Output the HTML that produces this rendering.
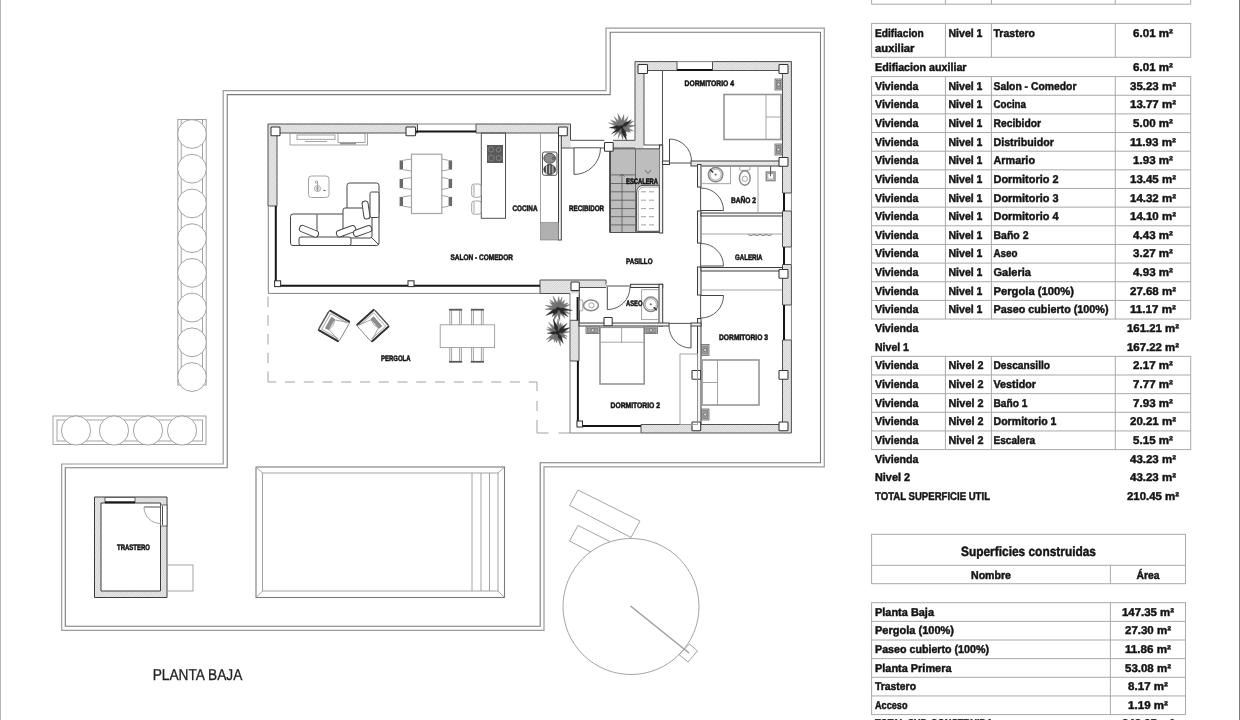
<!DOCTYPE html>
<html lang="es"><head><meta charset="utf-8"><title>Planta Baja</title>
<style>
html,body{margin:0;padding:0;background:#fff;}
body{width:1240px;height:720px;overflow:hidden;font-family:"Liberation Sans",sans-serif;}
svg{display:block;font-family:"Liberation Sans",sans-serif;text-rendering:geometricPrecision;will-change:transform;}
.t{font-weight:bold;fill:#141414;stroke:#141414;stroke-width:.45px;}
.lb{font-weight:bold;fill:#111;stroke:#111;stroke-width:.5px;}
.tb{stroke:#a9a9a9;stroke-width:1;fill:none;}
.l{stroke:#7a7a7a;stroke-width:1.1;fill:none;}
.lo{stroke:#9a9a9a;stroke-width:1.2;fill:none;}
.lt{stroke:#9a9a9a;stroke-width:.9;fill:none;}
.ltw{stroke:#9a9a9a;stroke-width:.9;fill:#fff;}
.dk{stroke:#505050;stroke-width:1;fill:none;}
.w{stroke:#3c3c3c;stroke-width:1;fill:#e6e6e6;}
.w2{stroke:#3c3c3c;stroke-width:1;fill:#f4f4f4;}
.wn{stroke:none;fill:url(#hatch);}
.col{stroke:#333;stroke-width:1.05;fill:#fff;}
.bk{stroke:#151515;stroke-width:2;fill:none;}
.wo{stroke:#828282;stroke-width:1;fill:none;}
.wh{stroke:#555;stroke-width:.9;fill:#fff;}
.st{fill:#bdbdbd;stroke:none;}
.sl{stroke:#555;stroke-width:.8;fill:none;}
.dr{stroke:#444;stroke-width:1;fill:none;}
.fs{stroke:#444;stroke-width:1;fill:#fff;}
.fl{stroke:#444;stroke-width:1;fill:none;}
.bd{stroke:#959595;stroke-width:1.6;fill:#fff;}
.ns{stroke:#666;stroke-width:.8;fill:#cfcfcf;}
.nsi{stroke:#777;stroke-width:.7;fill:#9c9c9c;}
.nsc{stroke:#555;stroke-width:.6;fill:#d8d8d8;}
.tl{stroke:#8a8a8a;stroke-width:1.5;fill:#fff;}
.da{stroke:#4a4a4a;stroke-width:.9;fill:none;}
.wh2{stroke:#444;stroke-width:1;fill:#fff;}
.tbl{stroke:#a4a4a4;stroke-width:1.2;fill:#fff;}
.ds2{stroke:#a2a2a2;stroke-width:1;fill:none;}
.ds{stroke:#a5a5a5;stroke-width:1;fill:none;stroke-dasharray:10 8.8;}
</style></head>
<body>
<svg width="1240" height="720" viewBox="0 0 1240 720">
<defs><pattern id="hatch" width="2.4" height="2.4" patternUnits="userSpaceOnUse"><rect width="2.4" height="2.4" fill="#e9e9e9"/><path d="M-0.6,0.6 L0.6,-0.6 M0,2.4 L2.4,0 M1.8,3 L3,1.8" stroke="#c6c6c6" stroke-width=".7"/></pattern></defs>
<g id="tables">
<line x1="0.5" y1="0" x2="0.5" y2="720" stroke="#b5b5b5" stroke-width="1"/>
<line x1="1239.5" y1="0" x2="1239.5" y2="720" stroke="#7d7d7d" stroke-width="1"/>
<line class="tb" x1="871.6" y1="0" x2="871.6" y2="4.2"/>
<line class="tb" x1="945.4" y1="0" x2="945.4" y2="4.2"/>
<line class="tb" x1="991.4" y1="0" x2="991.4" y2="4.2"/>
<line class="tb" x1="1115.3" y1="0" x2="1115.3" y2="4.2"/>
<line class="tb" x1="1190.7" y1="0" x2="1190.7" y2="4.2"/>
<line class="tb" x1="871.6" y1="4.2" x2="1190.7" y2="4.2"/>
<rect class="tb" x="871.6" y="23.4" width="319.1" height="33.9"/>
<line class="tb" x1="945.4" y1="23.4" x2="945.4" y2="57.3"/>
<line class="tb" x1="991.4" y1="23.4" x2="991.4" y2="57.3"/>
<line class="tb" x1="1115.3" y1="23.4" x2="1115.3" y2="57.3"/>
<text class="t" x="875.0" y="36.8" font-size="11.3" textLength="48.7" lengthAdjust="spacingAndGlyphs">Edifiacion</text>
<text class="t" x="875.0" y="52.4" font-size="11.3" textLength="39.5" lengthAdjust="spacingAndGlyphs">auxiliar</text>
<text class="t" x="948.5" y="36.8" font-size="11.3" textLength="34.0" lengthAdjust="spacingAndGlyphs">Nivel 1</text>
<text class="t" x="993.5" y="36.8" font-size="11.3" textLength="41.5" lengthAdjust="spacingAndGlyphs">Trastero</text>
<text class="t" x="1153.0" y="36.8" font-size="11.3" textLength="39.9" lengthAdjust="spacingAndGlyphs" text-anchor="middle">6.01 m²</text>
<text class="t" x="875.0" y="71.0" font-size="11.3" textLength="91.5" lengthAdjust="spacingAndGlyphs">Edifiacion auxiliar</text>
<text class="t" x="1153.0" y="71.0" font-size="11.3" textLength="39.9" lengthAdjust="spacingAndGlyphs" text-anchor="middle">6.01 m²</text>
<rect class="tb" x="871.6" y="76.6" width="319.1" height="242.45"/>
<line class="tb" x1="945.4" y1="76.6" x2="945.4" y2="319.05"/>
<line class="tb" x1="991.4" y1="76.6" x2="991.4" y2="319.05"/>
<line class="tb" x1="1115.3" y1="76.6" x2="1115.3" y2="319.05"/>
<text class="t" x="875.0" y="89.6" font-size="11.3" textLength="43.5" lengthAdjust="spacingAndGlyphs">Vivienda</text>
<text class="t" x="948.5" y="89.6" font-size="11.3" textLength="34.0" lengthAdjust="spacingAndGlyphs">Nivel 1</text>
<text class="t" x="993.5" y="89.6" font-size="11.3" textLength="83.0" lengthAdjust="spacingAndGlyphs">Salon - Comedor</text>
<text class="t" x="1153.0" y="89.6" font-size="11.3" textLength="46.0" lengthAdjust="spacingAndGlyphs" text-anchor="middle">35.23 m²</text>
<line class="tb" x1="871.6" y1="95.25" x2="1190.7" y2="95.25"/>
<text class="t" x="875.0" y="108.2" font-size="11.3" textLength="43.5" lengthAdjust="spacingAndGlyphs">Vivienda</text>
<text class="t" x="948.5" y="108.2" font-size="11.3" textLength="34.0" lengthAdjust="spacingAndGlyphs">Nivel 1</text>
<text class="t" x="993.5" y="108.2" font-size="11.3" textLength="32.5" lengthAdjust="spacingAndGlyphs">Cocina</text>
<text class="t" x="1153.0" y="108.2" font-size="11.3" textLength="46.0" lengthAdjust="spacingAndGlyphs" text-anchor="middle">13.77 m²</text>
<line class="tb" x1="871.6" y1="113.9" x2="1190.7" y2="113.9"/>
<text class="t" x="875.0" y="126.9" font-size="11.3" textLength="43.5" lengthAdjust="spacingAndGlyphs">Vivienda</text>
<text class="t" x="948.5" y="126.9" font-size="11.3" textLength="34.0" lengthAdjust="spacingAndGlyphs">Nivel 1</text>
<text class="t" x="993.5" y="126.9" font-size="11.3" textLength="47.5" lengthAdjust="spacingAndGlyphs">Recibidor</text>
<text class="t" x="1153.0" y="126.9" font-size="11.3" textLength="39.9" lengthAdjust="spacingAndGlyphs" text-anchor="middle">5.00 m²</text>
<line class="tb" x1="871.6" y1="132.55" x2="1190.7" y2="132.55"/>
<text class="t" x="875.0" y="145.5" font-size="11.3" textLength="43.5" lengthAdjust="spacingAndGlyphs">Vivienda</text>
<text class="t" x="948.5" y="145.5" font-size="11.3" textLength="34.0" lengthAdjust="spacingAndGlyphs">Nivel 1</text>
<text class="t" x="993.5" y="145.5" font-size="11.3" textLength="60.5" lengthAdjust="spacingAndGlyphs">Distribuidor</text>
<text class="t" x="1153.0" y="145.5" font-size="11.3" textLength="46.0" lengthAdjust="spacingAndGlyphs" text-anchor="middle">11.93 m²</text>
<line class="tb" x1="871.6" y1="151.2" x2="1190.7" y2="151.2"/>
<text class="t" x="875.0" y="164.2" font-size="11.3" textLength="43.5" lengthAdjust="spacingAndGlyphs">Vivienda</text>
<text class="t" x="948.5" y="164.2" font-size="11.3" textLength="34.0" lengthAdjust="spacingAndGlyphs">Nivel 1</text>
<text class="t" x="993.5" y="164.2" font-size="11.3" textLength="41.5" lengthAdjust="spacingAndGlyphs">Armario</text>
<text class="t" x="1153.0" y="164.2" font-size="11.3" textLength="39.9" lengthAdjust="spacingAndGlyphs" text-anchor="middle">1.93 m²</text>
<line class="tb" x1="871.6" y1="169.85" x2="1190.7" y2="169.85"/>
<text class="t" x="875.0" y="182.8" font-size="11.3" textLength="43.5" lengthAdjust="spacingAndGlyphs">Vivienda</text>
<text class="t" x="948.5" y="182.8" font-size="11.3" textLength="34.0" lengthAdjust="spacingAndGlyphs">Nivel 1</text>
<text class="t" x="993.5" y="182.8" font-size="11.3" textLength="65.0" lengthAdjust="spacingAndGlyphs">Dormitorio 2</text>
<text class="t" x="1153.0" y="182.8" font-size="11.3" textLength="46.0" lengthAdjust="spacingAndGlyphs" text-anchor="middle">13.45 m²</text>
<line class="tb" x1="871.6" y1="188.5" x2="1190.7" y2="188.5"/>
<text class="t" x="875.0" y="201.5" font-size="11.3" textLength="43.5" lengthAdjust="spacingAndGlyphs">Vivienda</text>
<text class="t" x="948.5" y="201.5" font-size="11.3" textLength="34.0" lengthAdjust="spacingAndGlyphs">Nivel 1</text>
<text class="t" x="993.5" y="201.5" font-size="11.3" textLength="65.0" lengthAdjust="spacingAndGlyphs">Dormitorio 3</text>
<text class="t" x="1153.0" y="201.5" font-size="11.3" textLength="46.0" lengthAdjust="spacingAndGlyphs" text-anchor="middle">14.32 m²</text>
<line class="tb" x1="871.6" y1="207.15" x2="1190.7" y2="207.15"/>
<text class="t" x="875.0" y="220.1" font-size="11.3" textLength="43.5" lengthAdjust="spacingAndGlyphs">Vivienda</text>
<text class="t" x="948.5" y="220.1" font-size="11.3" textLength="34.0" lengthAdjust="spacingAndGlyphs">Nivel 1</text>
<text class="t" x="993.5" y="220.1" font-size="11.3" textLength="65.0" lengthAdjust="spacingAndGlyphs">Dormitorio 4</text>
<text class="t" x="1153.0" y="220.1" font-size="11.3" textLength="46.0" lengthAdjust="spacingAndGlyphs" text-anchor="middle">14.10 m²</text>
<line class="tb" x1="871.6" y1="225.8" x2="1190.7" y2="225.8"/>
<text class="t" x="875.0" y="238.8" font-size="11.3" textLength="43.5" lengthAdjust="spacingAndGlyphs">Vivienda</text>
<text class="t" x="948.5" y="238.8" font-size="11.3" textLength="34.0" lengthAdjust="spacingAndGlyphs">Nivel 1</text>
<text class="t" x="993.5" y="238.8" font-size="11.3" textLength="35.0" lengthAdjust="spacingAndGlyphs">Baño 2</text>
<text class="t" x="1153.0" y="238.8" font-size="11.3" textLength="39.9" lengthAdjust="spacingAndGlyphs" text-anchor="middle">4.43 m²</text>
<line class="tb" x1="871.6" y1="244.45" x2="1190.7" y2="244.45"/>
<text class="t" x="875.0" y="257.4" font-size="11.3" textLength="43.5" lengthAdjust="spacingAndGlyphs">Vivienda</text>
<text class="t" x="948.5" y="257.4" font-size="11.3" textLength="34.0" lengthAdjust="spacingAndGlyphs">Nivel 1</text>
<text class="t" x="993.5" y="257.4" font-size="11.3" textLength="24.0" lengthAdjust="spacingAndGlyphs">Aseo</text>
<text class="t" x="1153.0" y="257.4" font-size="11.3" textLength="39.9" lengthAdjust="spacingAndGlyphs" text-anchor="middle">3.27 m²</text>
<line class="tb" x1="871.6" y1="263.1" x2="1190.7" y2="263.1"/>
<text class="t" x="875.0" y="276.1" font-size="11.3" textLength="43.5" lengthAdjust="spacingAndGlyphs">Vivienda</text>
<text class="t" x="948.5" y="276.1" font-size="11.3" textLength="34.0" lengthAdjust="spacingAndGlyphs">Nivel 1</text>
<text class="t" x="993.5" y="276.1" font-size="11.3" textLength="37.5" lengthAdjust="spacingAndGlyphs">Galeria</text>
<text class="t" x="1153.0" y="276.1" font-size="11.3" textLength="39.9" lengthAdjust="spacingAndGlyphs" text-anchor="middle">4.93 m²</text>
<line class="tb" x1="871.6" y1="281.75" x2="1190.7" y2="281.75"/>
<text class="t" x="875.0" y="294.8" font-size="11.3" textLength="43.5" lengthAdjust="spacingAndGlyphs">Vivienda</text>
<text class="t" x="948.5" y="294.8" font-size="11.3" textLength="34.0" lengthAdjust="spacingAndGlyphs">Nivel 1</text>
<text class="t" x="993.5" y="294.8" font-size="11.3" textLength="80.5" lengthAdjust="spacingAndGlyphs">Pergola (100%)</text>
<text class="t" x="1153.0" y="294.8" font-size="11.3" textLength="46.0" lengthAdjust="spacingAndGlyphs" text-anchor="middle">27.68 m²</text>
<line class="tb" x1="871.6" y1="300.4" x2="1190.7" y2="300.4"/>
<text class="t" x="875.0" y="313.4" font-size="11.3" textLength="43.5" lengthAdjust="spacingAndGlyphs">Vivienda</text>
<text class="t" x="948.5" y="313.4" font-size="11.3" textLength="34.0" lengthAdjust="spacingAndGlyphs">Nivel 1</text>
<text class="t" x="993.5" y="313.4" font-size="11.3" textLength="115.0" lengthAdjust="spacingAndGlyphs">Paseo cubierto (100%)</text>
<text class="t" x="1153.0" y="313.4" font-size="11.3" textLength="46.0" lengthAdjust="spacingAndGlyphs" text-anchor="middle">11.17 m²</text>
<text class="t" x="875.0" y="332.2" font-size="11.3" textLength="43.5" lengthAdjust="spacingAndGlyphs">Vivienda</text>
<text class="t" x="1153.0" y="332.2" font-size="11.3" textLength="52.1" lengthAdjust="spacingAndGlyphs" text-anchor="middle">161.21 m²</text>
<text class="t" x="875.0" y="350.9" font-size="11.3" textLength="34.0" lengthAdjust="spacingAndGlyphs">Nivel 1</text>
<text class="t" x="1153.0" y="350.9" font-size="11.3" textLength="52.1" lengthAdjust="spacingAndGlyphs" text-anchor="middle">167.22 m²</text>
<rect class="tb" x="871.6" y="356.35" width="319.1" height="93.25"/>
<line class="tb" x1="945.4" y1="356.35" x2="945.4" y2="449.6"/>
<line class="tb" x1="991.4" y1="356.35" x2="991.4" y2="449.6"/>
<line class="tb" x1="1115.3" y1="356.35" x2="1115.3" y2="449.6"/>
<text class="t" x="875.0" y="369.4" font-size="11.3" textLength="43.5" lengthAdjust="spacingAndGlyphs">Vivienda</text>
<text class="t" x="948.5" y="369.4" font-size="11.3" textLength="35.0" lengthAdjust="spacingAndGlyphs">Nivel 2</text>
<text class="t" x="993.5" y="369.4" font-size="11.3" textLength="56.5" lengthAdjust="spacingAndGlyphs">Descansillo</text>
<text class="t" x="1153.0" y="369.4" font-size="11.3" textLength="39.9" lengthAdjust="spacingAndGlyphs" text-anchor="middle">2.17 m²</text>
<line class="tb" x1="871.6" y1="375.0" x2="1190.7" y2="375.0"/>
<text class="t" x="875.0" y="388.0" font-size="11.3" textLength="43.5" lengthAdjust="spacingAndGlyphs">Vivienda</text>
<text class="t" x="948.5" y="388.0" font-size="11.3" textLength="35.0" lengthAdjust="spacingAndGlyphs">Nivel 2</text>
<text class="t" x="993.5" y="388.0" font-size="11.3" textLength="42.5" lengthAdjust="spacingAndGlyphs">Vestidor</text>
<text class="t" x="1153.0" y="388.0" font-size="11.3" textLength="39.9" lengthAdjust="spacingAndGlyphs" text-anchor="middle">7.77 m²</text>
<line class="tb" x1="871.6" y1="393.65" x2="1190.7" y2="393.65"/>
<text class="t" x="875.0" y="406.7" font-size="11.3" textLength="43.5" lengthAdjust="spacingAndGlyphs">Vivienda</text>
<text class="t" x="948.5" y="406.7" font-size="11.3" textLength="35.0" lengthAdjust="spacingAndGlyphs">Nivel 2</text>
<text class="t" x="993.5" y="406.7" font-size="11.3" textLength="34.0" lengthAdjust="spacingAndGlyphs">Baño 1</text>
<text class="t" x="1153.0" y="406.7" font-size="11.3" textLength="39.9" lengthAdjust="spacingAndGlyphs" text-anchor="middle">7.93 m²</text>
<line class="tb" x1="871.6" y1="412.3" x2="1190.7" y2="412.3"/>
<text class="t" x="875.0" y="425.3" font-size="11.3" textLength="43.5" lengthAdjust="spacingAndGlyphs">Vivienda</text>
<text class="t" x="948.5" y="425.3" font-size="11.3" textLength="35.0" lengthAdjust="spacingAndGlyphs">Nivel 2</text>
<text class="t" x="993.5" y="425.3" font-size="11.3" textLength="63.0" lengthAdjust="spacingAndGlyphs">Dormitorio 1</text>
<text class="t" x="1153.0" y="425.3" font-size="11.3" textLength="46.0" lengthAdjust="spacingAndGlyphs" text-anchor="middle">20.21 m²</text>
<line class="tb" x1="871.6" y1="430.95" x2="1190.7" y2="430.95"/>
<text class="t" x="875.0" y="444.0" font-size="11.3" textLength="43.5" lengthAdjust="spacingAndGlyphs">Vivienda</text>
<text class="t" x="948.5" y="444.0" font-size="11.3" textLength="35.0" lengthAdjust="spacingAndGlyphs">Nivel 2</text>
<text class="t" x="993.5" y="444.0" font-size="11.3" textLength="41.5" lengthAdjust="spacingAndGlyphs">Escalera</text>
<text class="t" x="1153.0" y="444.0" font-size="11.3" textLength="39.9" lengthAdjust="spacingAndGlyphs" text-anchor="middle">5.15 m²</text>
<text class="t" x="875.0" y="462.8" font-size="11.3" textLength="43.5" lengthAdjust="spacingAndGlyphs">Vivienda</text>
<text class="t" x="1153.0" y="462.8" font-size="11.3" textLength="46.0" lengthAdjust="spacingAndGlyphs" text-anchor="middle">43.23 m²</text>
<text class="t" x="875.0" y="481.4" font-size="11.3" textLength="35.0" lengthAdjust="spacingAndGlyphs">Nivel 2</text>
<text class="t" x="1153.0" y="481.4" font-size="11.3" textLength="46.0" lengthAdjust="spacingAndGlyphs" text-anchor="middle">43.23 m²</text>
<text class="t" x="875.0" y="500.1" font-size="11.3" textLength="115.0" lengthAdjust="spacingAndGlyphs">TOTAL SUPERFICIE UTIL</text>
<text class="t" x="1153.0" y="500.1" font-size="11.3" textLength="52.1" lengthAdjust="spacingAndGlyphs" text-anchor="middle">210.45 m²</text>
<rect class="tb" x="871.6" y="534.3" width="313.9" height="49.4"/>
<line class="tb" x1="871.6" y1="565.3" x2="1185.5" y2="565.3"/>
<line class="tb" x1="1110.4" y1="565.3" x2="1110.4" y2="583.7"/>
<text class="t" x="1028.5" y="556.2" font-size="13.5" textLength="135.0" lengthAdjust="spacingAndGlyphs" text-anchor="middle">Superficies construidas</text>
<text class="t" x="991.0" y="579.0" font-size="11.3" textLength="40.0" lengthAdjust="spacingAndGlyphs" text-anchor="middle">Nombre</text>
<text class="t" x="1148.0" y="579.0" font-size="11.3" textLength="23.0" lengthAdjust="spacingAndGlyphs" text-anchor="middle">Área</text>
<rect class="tb" x="871.6" y="602.7" width="313.9" height="111.9"/>
<line class="tb" x1="1110.4" y1="602.7" x2="1110.4" y2="714.6"/>
<text class="t" x="875.0" y="615.7" font-size="11.3" textLength="59.0" lengthAdjust="spacingAndGlyphs">Planta Baja</text>
<text class="t" x="1148.0" y="615.7" font-size="11.3" textLength="52.1" lengthAdjust="spacingAndGlyphs" text-anchor="middle">147.35 m²</text>
<line class="tb" x1="871.6" y1="621.35" x2="1185.5" y2="621.35"/>
<text class="t" x="875.0" y="634.4" font-size="11.3" textLength="79.0" lengthAdjust="spacingAndGlyphs">Pergola (100%)</text>
<text class="t" x="1148.0" y="634.4" font-size="11.3" textLength="46.0" lengthAdjust="spacingAndGlyphs" text-anchor="middle">27.30 m²</text>
<line class="tb" x1="871.6" y1="640.0" x2="1185.5" y2="640.0"/>
<text class="t" x="875.0" y="653.0" font-size="11.3" textLength="114.0" lengthAdjust="spacingAndGlyphs">Paseo cubierto (100%)</text>
<text class="t" x="1148.0" y="653.0" font-size="11.3" textLength="46.0" lengthAdjust="spacingAndGlyphs" text-anchor="middle">11.86 m²</text>
<line class="tb" x1="871.6" y1="658.65" x2="1185.5" y2="658.65"/>
<text class="t" x="875.0" y="671.7" font-size="11.3" textLength="76.5" lengthAdjust="spacingAndGlyphs">Planta Primera</text>
<text class="t" x="1148.0" y="671.7" font-size="11.3" textLength="46.0" lengthAdjust="spacingAndGlyphs" text-anchor="middle">53.08 m²</text>
<line class="tb" x1="871.6" y1="677.3" x2="1185.5" y2="677.3"/>
<text class="t" x="875.0" y="690.3" font-size="11.3" textLength="41.0" lengthAdjust="spacingAndGlyphs">Trastero</text>
<text class="t" x="1148.0" y="690.3" font-size="11.3" textLength="39.9" lengthAdjust="spacingAndGlyphs" text-anchor="middle">8.17 m²</text>
<line class="tb" x1="871.6" y1="695.95" x2="1185.5" y2="695.95"/>
<text class="t" x="875.0" y="709.0" font-size="11.3" textLength="32.5" lengthAdjust="spacingAndGlyphs">Acceso</text>
<text class="t" x="1148.0" y="709.0" font-size="11.3" textLength="39.9" lengthAdjust="spacingAndGlyphs" text-anchor="middle">1.19 m²</text>
<text class="t" x="875.0" y="726.9" font-size="11.3" textLength="118.0" lengthAdjust="spacingAndGlyphs">TOTAL SUP. CONSTRUIDA</text>
<text class="t" x="1148.0" y="726.9" font-size="11.3" textLength="52.1" lengthAdjust="spacingAndGlyphs" text-anchor="middle">248.95 m²</text>
</g>
<g id="site">
<path class="lo" d="M606,28.2 H824.3 V466.8 H544 V630.3 H61.7 V464 H223.2 V90.7 H606 Z"/>
<path class="l" d="M610.2,32.3 H820.5 V462.8 H540.2 V626.3 H65.3 V467.7 H227.2 V94.6 H610.2 Z"/>
<rect class="lt" x="177.8" y="119.5" width="28.4" height="265.5"/>
<rect class="lt" x="181.2" y="119.5" width="21.3" height="265.5"/>
<circle class="ltw" cx="192" cy="134.0" r="14.4"/>
<circle class="ltw" cx="192" cy="168.72" r="14.4"/>
<circle class="ltw" cx="192" cy="203.44" r="14.4"/>
<circle class="ltw" cx="192" cy="238.16" r="14.4"/>
<circle class="ltw" cx="192" cy="272.88" r="14.4"/>
<circle class="ltw" cx="192" cy="307.6" r="14.4"/>
<circle class="ltw" cx="192" cy="342.32" r="14.4"/>
<circle class="ltw" cx="192" cy="377.03999999999996" r="14.4"/>
<rect class="lt" x="53" y="416" width="153" height="28.5"/>
<rect class="lt" x="57" y="420" width="145.5" height="21"/>
<circle class="ltw" cx="76" cy="430.5" r="14.6"/>
<circle class="ltw" cx="114" cy="430.5" r="14.6"/>
<circle class="ltw" cx="148" cy="430.5" r="14.6"/>
<circle class="ltw" cx="182" cy="430.5" r="14.6"/>
<rect class="l" x="256" y="467" width="248.5" height="130.5"/>
<rect class="lt" x="262.5" y="473" width="235.5" height="118"/>
<line class="lt" x1="256" y1="467" x2="262.5" y2="473"/>
<line class="lt" x1="504.5" y1="467" x2="498" y2="473"/>
<line class="lt" x1="256" y1="597.5" x2="262.5" y2="591"/>
<line class="lt" x1="504.5" y1="597.5" x2="498" y2="591"/>
<line class="lt" x1="472" y1="473" x2="472" y2="591"/>
<line class="lt" x1="481" y1="473" x2="481" y2="591"/>
<line class="lt" x1="489.5" y1="473" x2="489.5" y2="591"/>
<path class="w" style="fill:url(#hatch)" fill-rule="evenodd" d="M94.5,497 H167 V597.5 H94.5 Z M101,503 V591 H160.5 V503 Z"/>
<rect class="wh" x="105" y="497.5" width="30" height="5.0"/>
<line class="bk" x1="105" y1="502.3" x2="135" y2="502.3"/>
<rect class="wh" x="160.5" y="505" width="6.5" height="21"/>
<line class="dk" x1="144" y1="507" x2="160.5" y2="507"/>
<path class="lt" d="M144,507 A16.5,16.5 0 0 0 160.5,523.5"/>
<line class="dk" x1="162.5" y1="506" x2="162.5" y2="525"/>
<rect class="lt" x="167" y="565" width="26" height="26"/>
<text class="lb" x="117.0" y="550.0" font-size="8.0" textLength="33.0" lengthAdjust="spacingAndGlyphs">TRASTERO</text>
<polygon class="lt" points="578.0,490.0 640.0,521.0 631.0,537.5 569.5,505.5"/>
<polygon class="lt" points="578.0,525.5 640.0,556.5 631.0,573.0 569.5,541.0"/>
<circle class="ltw" cx="631" cy="606.5" r="68"/>
<line x1="630.5" y1="606" x2="689" y2="653" stroke="#a0a0a0" stroke-width="1.6"/>
<polygon class="lt" points="689.5,644.0 697.5,651.0 688.0,662.0 679.0,654.5"/>
<text x="152.7" y="680.3" font-size="15.8" fill="#222" stroke="#222" stroke-width=".3" textLength="89.6" lengthAdjust="spacingAndGlyphs">PLANTA BAJA</text>
<path class="ds2" d="M268,382 V293" stroke-dasharray="10.5 8.25"/>
<path class="ds2" d="M268,382 H537" stroke-dasharray="10 8.75" stroke-dashoffset="1.75"/>
<path class="ds2" d="M537,382 V391 M537,401 V411 M537,420 V433 H548.5 M558.5,433 H570"/>
</g>
<g id="house">
<rect class="wn" x="268" y="124" width="149.5" height="9"/>
<rect class="wn" x="476" y="124" width="94.5" height="9"/>
<rect class="wn" x="268" y="124" width="9" height="82"/>
<rect class="wn" x="558.5" y="133" width="12.0" height="15"/>
<rect class="wn" x="613" y="140" width="22" height="8"/>
<rect class="wn" x="635" y="61.6" width="9" height="86.4"/>
<rect class="wn" x="635" y="61.6" width="42" height="8.9"/>
<rect class="wn" x="712.5" y="61.6" width="78.9" height="8.9"/>
<rect class="wn" x="782.5" y="61.6" width="8.9" height="131.4"/>
<rect class="wn" x="782.5" y="211" width="8.9" height="36"/>
<rect class="wn" x="782.5" y="264.5" width="8.9" height="40.5"/>
<rect class="wn" x="782.5" y="340" width="8.9" height="93"/>
<rect class="wn" x="641" y="424.5" width="150.4" height="8.5"/>
<rect class="wn" x="540" y="280" width="39.3" height="13.5"/>
<rect class="wn" x="579.3" y="280" width="26.7" height="7.5"/>
<rect class="wn" x="570.3" y="320.3" width="8.7" height="40.7"/>
<path class="dk" d="M277,206 V133 H417.5 M476,133 H558.5 M570.5,124 V140.3 H604.5 M613,140.3 H635 V61.6 M644,145 V70.5 H677 M712.5,70.5 H782.5 V193 M782.5,211 V247 M782.5,264.5 V305 M782.5,340 V424.5 H641 V433 M540,293.3 V280 H606 V284.5 M579.3,287.5 H606 M579.3,293.5 V320.3 M570,320.3 H579 V361 H570 M540,293.5 H570 M268,206 H277 M417.5,124 V133 M476,124 V133 M677,61.6 V70.5 M712.5,61.6 V70.5 M782.5,193 H791.4 M782.5,211 H791.4 M782.5,247 H791.4 M782.5,264.5 H791.4 M782.5,305 H791.4 M782.5,340 H791.4 M613,148 H635 M561,148 H574 M601,148 H604.5"/>
<path class="dk" d="M268,206 V124 H417.5 M476,124 H570.5 M635,61.6 H677 M712.5,61.6 H791.4 V193 M791.4,211 V247 M791.4,264.5 V305 M791.4,340 V433 H641 M570,361 V320.3"/>
<path class="wo" d="M417.5,124 H476 M268.3,206 V293.4 H540 M677,61.6 H712.5 M791.4,193 V211 M791.4,247 V264.5 M791.4,305 V340 M570,293.5 V320.3 M570,361 V433 H641"/>
<line class="bk" x1="415" y1="131.5" x2="476" y2="131.5"/>
<line class="bk" x1="275.8" y1="206" x2="275.8" y2="286.7"/>
<line class="bk" x1="275" y1="285.7" x2="540" y2="285.7"/>
<line class="bk" x1="677" y1="70" x2="712.5" y2="70"/>
<line class="bk" x1="784" y1="193" x2="784" y2="211"/>
<line class="bk" x1="784" y1="247" x2="784" y2="264.5"/>
<line class="bk" x1="784" y1="305" x2="784" y2="340"/>
<line class="bk" x1="577.9" y1="361" x2="577.9" y2="426.5"/>
<line class="bk" x1="577.6" y1="297" x2="577.6" y2="320.3"/>
<line class="bk" x1="577" y1="426" x2="641" y2="426"/>
<rect class="w2" x="558.5" y="133" width="2.8" height="107"/>
<rect class="w2" x="659.5" y="145" width="3.2" height="88"/>
<rect class="w2" x="662.5" y="161" width="7.0" height="3.5"/>
<rect class="w" x="691" y="161" width="91.5" height="5"/>
<rect class="w2" x="697.5" y="164.5" width="3.5" height="22.5"/>
<rect class="w2" x="697.5" y="211" width="3.5" height="32"/>
<rect class="w2" x="697.5" y="267" width="3.5" height="28"/>
<rect class="w2" x="697.5" y="318.5" width="3.5" height="106.0"/>
<rect class="w2" x="701" y="213" width="81.5" height="3"/>
<rect class="w2" x="701" y="267.5" width="81.5" height="3.5"/>
<rect class="w2" x="630.6" y="284.3" width="32.1" height="3.2"/>
<rect class="w2" x="659" y="284.3" width="3.7" height="41.7"/>
<rect class="w2" x="579" y="323" width="90" height="3"/>
<rect class="w2" x="691" y="323" width="10" height="3"/>
<line class="dk" x1="669.5" y1="163" x2="691" y2="163"/>
<line class="dk" x1="700.6" y1="187" x2="700.6" y2="211"/>
<line class="dk" x1="700.6" y1="243" x2="700.6" y2="267"/>
<line class="dk" x1="700.6" y1="295" x2="700.6" y2="318.5"/>
<line class="dk" x1="606" y1="286" x2="630.6" y2="286"/>
<line class="dk" x1="669" y1="323.4" x2="691" y2="323.4"/>
<line class="dk" x1="574" y1="147.8" x2="601" y2="147.8"/>
<line class="dk" x1="579.3" y1="287.5" x2="579.3" y2="323"/>
<line class="dk" x1="662.5" y1="70.5" x2="662.5" y2="161"/>
<line class="dk" x1="644" y1="145" x2="662.5" y2="145"/>
<line class="lt" x1="758" y1="166" x2="758" y2="213"/>
<line class="lt" x1="701" y1="234" x2="782.5" y2="234"/>
<line class="lt" x1="701" y1="290" x2="782.5" y2="290"/>
<rect class="st" x="609.6" y="148.6" width="49.9" height="83.9"/>
<line x1="610" y1="148.6" x2="610" y2="232.5" stroke="#333" stroke-width="1.6"/>
<line class="dk" x1="609.6" y1="232.5" x2="659.5" y2="232.5"/>
<line class="dk" x1="609.6" y1="148.8" x2="659.5" y2="148.8"/>
<line class="sl" x1="635.5" y1="148.6" x2="635.5" y2="232.5"/>
<line class="sl" x1="622" y1="175" x2="622" y2="232.5"/>
<line class="sl" x1="609.6" y1="174.9" x2="635.5" y2="174.9"/>
<line class="sl" x1="609.6" y1="183.5" x2="635.5" y2="183.5"/>
<line class="sl" x1="609.6" y1="191.8" x2="635.5" y2="191.8"/>
<line class="sl" x1="609.6" y1="200.2" x2="635.5" y2="200.2"/>
<line class="sl" x1="609.6" y1="208.6" x2="635.5" y2="208.6"/>
<line class="sl" x1="609.6" y1="216.7" x2="635.5" y2="216.7"/>
<line class="sl" x1="609.6" y1="224.9" x2="635.5" y2="224.9"/>
<path class="wh2" d="M636.6,231.3 V193 Q636.6,185.3 644,185.3 H659.3 V231.3 Z"/>
<path class="lt" d="M638.3,231 V193.5 Q638.3,187 645,187 H659"/>
<line x1="641" y1="191.8" x2="656" y2="191.8" stroke="#999" stroke-width=".9" stroke-dasharray="5 3"/>
<line x1="641" y1="200.2" x2="656" y2="200.2" stroke="#999" stroke-width=".9" stroke-dasharray="5 3"/>
<line x1="641" y1="208.6" x2="656" y2="208.6" stroke="#999" stroke-width=".9" stroke-dasharray="5 3"/>
<line x1="641" y1="216.7" x2="656" y2="216.7" stroke="#999" stroke-width=".9" stroke-dasharray="5 3"/>
<line x1="641" y1="224.9" x2="656" y2="224.9" stroke="#999" stroke-width=".9" stroke-dasharray="5 3"/>
<path class="sl" d="M645,170 L648,173.5 L651,170 M619.5,176.5 L622,174 L624.5,176.5"/>
<rect class="col" x="271" y="127" width="9" height="8.7" rx="0.8"/>
<rect class="col" x="406" y="127" width="9.5" height="8.7" rx="0.8"/>
<rect class="col" x="558.5" y="127" width="8.8" height="8.7" rx="0.8"/>
<rect class="col" x="604.5" y="142.5" width="8.7" height="8.7" rx="0.8"/>
<rect class="col" x="638" y="64.5" width="9.5" height="9.0" rx="0.8"/>
<rect class="col" x="779" y="64.5" width="9" height="9.0" rx="0.8"/>
<rect class="col" x="779" y="157.5" width="9" height="8.8" rx="0.8"/>
<rect class="col" x="779" y="269.5" width="9" height="8.8" rx="0.8"/>
<rect class="col" x="779" y="370.5" width="9" height="8.8" rx="0.8"/>
<rect class="col" x="779" y="422" width="9" height="8.7" rx="0.8"/>
<rect class="col" x="692" y="370.5" width="8.7" height="8.8" rx="0.8"/>
<rect class="col" x="692" y="422" width="8.7" height="8.7" rx="0.8"/>
<rect class="col" x="571" y="282" width="8.3" height="8.6" rx="0.8"/>
<rect class="col" x="604" y="317.5" width="8.2" height="8.2" rx="0.8"/>
<rect class="col" x="274.6" y="280.8" width="6.0" height="5.8"/>
<rect class="col" x="408" y="280.8" width="6" height="5.8"/>
<rect class="col" x="577" y="421" width="5.5" height="6"/>
<line class="dr" x1="574" y1="148" x2="574" y2="174.5"/>
<path class="da" d="M574,174.5 A26.5,26.5 0 0 0 600.5,148"/>
<line class="dr" x1="669.5" y1="161" x2="669.5" y2="139"/>
<path class="da" d="M669.5,139 A22,22 0 0 1 691.5,161"/>
<line class="dr" x1="701" y1="210.5" x2="723.5" y2="210.5"/>
<path class="da" d="M723.5,210.5 A22.5,22.5 0 0 0 701,188"/>
<line class="dr" x1="701" y1="266" x2="723.5" y2="266"/>
<path class="da" d="M723.5,266 A22.5,22.5 0 0 0 701,243.5"/>
<line class="dr" x1="701" y1="295.5" x2="723.5" y2="295.5"/>
<path class="da" d="M723.5,295.5 A22.5,22.5 0 0 1 701,318"/>
<line class="dr" x1="607.3" y1="287" x2="607.3" y2="309.6"/>
<path class="da" d="M607.3,309.6 A22.6,22.6 0 0 0 630,287"/>
<line class="dr" x1="691" y1="326" x2="691" y2="348"/>
<path class="da" d="M691,348 A22,22 0 0 1 669,326"/>
</g>
<g id="furniture">
<rect class="lt" x="290" y="133.5" width="77.5" height="11.5"/>
<rect class="lt" x="297" y="135" width="38" height="4.3"/>
<line class="lt" x1="305" y1="141.5" x2="327" y2="141.5"/>
<rect class="lt" x="338" y="133.5" width="27" height="9.0"/>
<line x1="340" y1="143.8" x2="356" y2="143.8" stroke="#666" stroke-width="1"/>
<rect class="lt" x="308.5" y="176" width="20.5" height="21.5" rx="3"/>
<circle class="lt" cx="317.5" cy="188.5" r="3"/>
<circle class="lt" cx="317.5" cy="188.5" r="1.2"/>
<line class="lt" x1="317.5" y1="183" x2="317.5" y2="191"/>
<circle class="lt" cx="316.5" cy="182" r="1.2"/>
<line x1="323.5" y1="190.5" x2="325.5" y2="190.5" stroke="#555" stroke-width="1"/>
<rect class="fs" x="290.5" y="214" width="88.5" height="31.5" rx="2.5"/>
<rect class="fs" x="347" y="183" width="32" height="33" rx="2.5"/>
<rect class="fs" x="343" y="208" width="29" height="30" rx="2"/>
<line class="fl" x1="317" y1="214.5" x2="317" y2="238"/>
<rect class="fs" x="299" y="237" width="52" height="8.5" rx="2"/>
<rect class="fs" x="370" y="192" width="9" height="25.5" rx="1.5"/>
<rect class="fs" x="363" y="201" width="6" height="18" rx="2.5" transform="rotate(-8 366 210)"/>
<rect class="fs" x="299" y="228" width="20" height="6.5" rx="3" transform="rotate(22 309 231)"/>
<rect class="fs" x="336" y="228" width="20" height="6.5" rx="3" transform="rotate(-20 346 231)"/>
<rect class="fs" x="353" y="228" width="19" height="6.5" rx="3" transform="rotate(-20 362 231)"/>
<line class="fl" x1="371" y1="237" x2="379" y2="245"/>
<rect class="tbl" x="411.5" y="154.2" width="30.3" height="59.3"/>
<path class="lt" d="M411.5,159 L403,160.3 M403,169.7 L411.5,171"/>
<rect x="399.6" y="160.4" width="3.4" height="9.2" fill="#6a6a6a"/>
<path class="lt" d="M441.8,159 L448.6,160.3 M448.6,169.7 L441.8,171"/>
<rect x="448.6" y="160.4" width="3.5" height="9.2" fill="#6a6a6a"/>
<path class="lt" d="M411.5,177.5 L403,178.8 M403,188.2 L411.5,189.5"/>
<rect x="399.6" y="178.9" width="3.4" height="9.2" fill="#6a6a6a"/>
<path class="lt" d="M441.8,177.5 L448.6,178.8 M448.6,188.2 L441.8,189.5"/>
<rect x="448.6" y="178.9" width="3.5" height="9.2" fill="#6a6a6a"/>
<path class="lt" d="M411.5,195.5 L403,196.8 M403,206.2 L411.5,207.5"/>
<rect x="399.6" y="196.9" width="3.4" height="9.2" fill="#6a6a6a"/>
<path class="lt" d="M441.8,195.5 L448.6,196.8 M448.6,206.2 L441.8,207.5"/>
<rect x="448.6" y="196.9" width="3.5" height="9.2" fill="#6a6a6a"/>
<rect class="dk" x="481.3" y="133" width="24.2" height="85.3"/>
<rect x="487" y="145" width="16" height="18" fill="#5a5a5a"/>
<circle cx="491" cy="149.5" r="2.6" fill="none" stroke="#8a8a8a" stroke-width=".8"/>
<circle cx="498.5" cy="149.8" r="2.2" fill="none" stroke="#8a8a8a" stroke-width=".8"/>
<circle cx="491.2" cy="158" r="3" fill="none" stroke="#8a8a8a" stroke-width=".8"/>
<circle cx="498.8" cy="158" r="2.6" fill="none" stroke="#8a8a8a" stroke-width=".8"/>
<rect class="lt" x="471.7" y="184" width="9.6" height="13.2" rx="2.5"/>
<line class="lt" x1="474" y1="185" x2="474" y2="196.2"/>
<rect class="lt" x="471.7" y="201" width="9.6" height="13.2" rx="2.5"/>
<line class="lt" x1="474" y1="202" x2="474" y2="213.2"/>
<line class="lt" x1="540.5" y1="133" x2="540.5" y2="222.5"/>
<rect x="540.5" y="222.5" width="18" height="17.5" fill="#b0b0b0" stroke="#777" stroke-width=".6"/>
<rect class="dk" x="542.5" y="152" width="14.5" height="23.3" rx="2"/>
<ellipse cx="549.7" cy="158.3" rx="5.8" ry="5" fill="#8c8c8c" stroke="#333" stroke-width=".8"/>
<circle cx="553.5" cy="158.3" r="1.2" fill="none" stroke="#333" stroke-width=".6"/>
<ellipse cx="549.7" cy="169.5" rx="5.8" ry="5" fill="#555" stroke="#222" stroke-width=".8"/>
<line x1="546.5" y1="165.3" x2="546.5" y2="173.7" stroke="#ccc" stroke-width="1"/>
<line x1="549.7" y1="165.3" x2="549.7" y2="173.7" stroke="#ccc" stroke-width="1"/>
<line x1="552.9" y1="165.3" x2="552.9" y2="173.7" stroke="#ccc" stroke-width="1"/>
<g transform="translate(334 325.9) rotate(30)">
<rect x="-12" y="-11.5" width="24" height="23" rx="2" fill="#fff" stroke="#777" stroke-width=".8"/>
<path d="M-11,-11.2 H11 M-11,11.2 H11" fill="none" stroke="#333" stroke-width="2" stroke-linecap="round"/>
<path d="M-11.6,-10 V10" fill="none" stroke="#555" stroke-width="1.3"/>
<path d="M-9,-9 V9 M-9,-9 H10 M-9,9 H10 M-2.5,-5.5 L11.5,-10.5 M-2.5,5.5 L11.5,10.5 M-2.5,-5.5 Q0,0 -2.5,5.5" fill="none" stroke="#8a8a8a" stroke-width=".7"/>
<rect x="-6.8" y="-6.5" width="4.3" height="13" fill="#8c8c8c"/>
</g>
<g transform="translate(372.9 325.6) rotate(138)">
<rect x="-12" y="-11.5" width="24" height="23" rx="2" fill="#fff" stroke="#777" stroke-width=".8"/>
<path d="M-11,-11.2 H11 M-11,11.2 H11" fill="none" stroke="#333" stroke-width="2" stroke-linecap="round"/>
<path d="M-11.6,-10 V10" fill="none" stroke="#555" stroke-width="1.3"/>
<path d="M-9,-9 V9 M-9,-9 H10 M-9,9 H10 M-2.5,-5.5 L11.5,-10.5 M-2.5,5.5 L11.5,10.5 M-2.5,-5.5 Q0,0 -2.5,5.5" fill="none" stroke="#8a8a8a" stroke-width=".7"/>
<rect x="-6.8" y="-6.5" width="4.3" height="13" fill="#8c8c8c"/>
</g>
<rect class="ltw" x="440.2" y="324.8" width="54.4" height="22.8"/>
<path class="lt" d="M449.8,325 V310 M451.6,325 V310 M459.6,325 V310 M461.4,325 V310"/>
<line x1="449" y1="309.7" x2="462.2" y2="309.7" stroke="#5a5a5a" stroke-width="1.8"/>
<path class="lt" d="M449.8,347.5 V361.5 M451.6,347.5 V361.5 M459.6,347.5 V361.5 M461.4,347.5 V361.5"/>
<line x1="449" y1="361.8" x2="462.2" y2="361.8" stroke="#5a5a5a" stroke-width="1.8"/>
<path class="lt" d="M471.6,325 V310 M473.40000000000003,325 V310 M481.40000000000003,325 V310 M483.2,325 V310"/>
<line x1="470.8" y1="309.7" x2="484.0" y2="309.7" stroke="#5a5a5a" stroke-width="1.8"/>
<path class="lt" d="M471.6,347.5 V361.5 M473.40000000000003,347.5 V361.5 M481.40000000000003,347.5 V361.5 M483.2,347.5 V361.5"/>
<line x1="470.8" y1="361.8" x2="484.0" y2="361.8" stroke="#5a5a5a" stroke-width="1.8"/>
<rect class="bd" x="724" y="94.5" width="57" height="45.0"/>
<line class="lt" x1="766" y1="94.5" x2="766" y2="139.5"/>
<line class="lt" x1="766" y1="117" x2="781" y2="117"/>
<rect class="ns" x="775" y="79" width="7" height="11"/>
<rect class="nsi" x="776.3" y="80.5" width="4.4" height="8.0"/>
<circle class="nsc" cx="778.5" cy="84.5" r="1.6"/>
<rect class="ns" x="775" y="144" width="7" height="11"/>
<rect class="nsi" x="776.3" y="145.5" width="4.4" height="8.0"/>
<circle class="nsc" cx="778.5" cy="149.5" r="1.6"/>
<rect class="bd" x="600" y="327.3" width="44.2" height="56.7"/>
<line class="lt" x1="600" y1="342.2" x2="644.2" y2="342.2"/>
<line class="lt" x1="621.6" y1="327.3" x2="621.6" y2="342.2"/>
<rect class="ns" x="586" y="326.8" width="13.3" height="6.8"/>
<rect class="nsi" x="587.5" y="328" width="10.3" height="4.4"/>
<circle class="nsc" cx="592.7" cy="330.2" r="1.6"/>
<rect class="ns" x="644.3" y="326.8" width="13.3" height="6.8"/>
<rect class="nsi" x="645.8" y="328" width="10.3" height="4.4"/>
<circle class="nsc" cx="651.0" cy="330.2" r="1.6"/>
<rect class="lt" x="680" y="354" width="17.5" height="70.5"/>
<rect class="bd" x="702" y="360" width="57" height="45"/>
<line class="lt" x1="717.5" y1="360" x2="717.5" y2="405"/>
<line class="lt" x1="702" y1="382.5" x2="717.5" y2="382.5"/>
<rect class="ns" x="701.5" y="344.5" width="7.5" height="11.0"/>
<rect class="nsi" x="702.8" y="346.0" width="4.9" height="8.0"/>
<circle class="nsc" cx="705.2" cy="350.0" r="1.6"/>
<rect class="ns" x="701.5" y="409" width="7.5" height="11"/>
<rect class="nsi" x="702.8" y="410.5" width="4.9" height="8.0"/>
<circle class="nsc" cx="705.2" cy="414.5" r="1.6"/>
<rect class="lt" x="701" y="166.5" width="29.6" height="17.2"/>
<circle class="tl" cx="715.6" cy="174.6" r="7.2"/>
<circle class="lt" cx="715.6" cy="174.6" r="5.6"/>
<circle class="dk" cx="715.6" cy="174.6" r="0.6"/>
<line x1="710" y1="169.5" x2="713.2" y2="172.6" stroke="#333" stroke-width="1.4"/>
<rect class="lt" x="739.7" y="166.5" width="10.3" height="3.8" rx="1"/>
<ellipse class="tl" cx="744.8" cy="178" rx="5.4" ry="7.2"/>
<circle class="lt" cx="744.8" cy="178.8" r="2.7"/>
<rect class="tl" x="766.3" y="172" width="8.7" height="8.6"/>
<rect class="lt" x="767.8" y="173.5" width="5.7" height="5.6"/>
<line class="dk" x1="770.6" y1="166" x2="770.6" y2="176.3"/>
<rect class="lt" x="641.6" y="289.7" width="17.4" height="29.9"/>
<circle class="tl" cx="650.8" cy="304.3" r="7.2"/>
<circle class="lt" cx="650.8" cy="304.3" r="5.6"/>
<circle class="dk" cx="650.8" cy="304.3" r="0.6"/>
<line x1="653.6" y1="307.2" x2="656.8" y2="310.3" stroke="#333" stroke-width="1.4"/>
<rect class="lt" x="579.6" y="300" width="3.2" height="10.8" rx="1"/>
<ellipse class="tl" cx="591" cy="305.4" rx="7.4" ry="5.4"/>
<circle class="lt" cx="591.4" cy="305.4" r="2.6"/>
<path d="M748,234.5 q3,2.5 6,0 q3,2.5 6,0 q3,2.5 6,0 q3,2.5 6,0" fill="none" stroke="#666" stroke-width=".8"/>
<path d="M621.9,127.0 L627.0,128.3 L635.8,125.5 L626.6,124.7 Z M621.9,127.0 L625.4,130.0 L633.5,131.0 L626.5,126.8 Z M621.9,127.0 L624.1,130.5 L630.9,132.4 L626.0,127.3 Z M621.9,127.0 L622.3,130.9 L626.9,136.1 L625.0,129.4 Z M621.9,127.0 L620.2,131.5 L622.7,139.7 L624.1,131.3 Z M621.9,127.0 L619.4,130.6 L618.0,138.5 L621.7,131.4 Z M621.9,127.0 L618.0,129.3 L613.6,136.3 L620.0,131.2 Z M621.9,127.0 L617.6,124.3 L608.5,122.7 L616.8,126.7 Z M621.9,127.0 L619.0,122.8 L610.6,119.9 L616.9,126.1 Z M621.9,127.0 L620.3,122.4 L613.9,116.4 L618.0,124.2 Z M621.9,127.0 L622.0,121.9 L617.8,113.6 L618.9,122.8 Z M621.9,127.0 L622.8,122.7 L619.4,115.9 L619.2,123.5 Z M621.9,127.0 L624.3,122.9 L623.8,114.4 L620.8,122.3 Z M621.9,127.0 L625.5,124.2 L628.2,116.5 L622.7,122.5 Z M621.9,127.0 L627.0,126.7 L633.8,121.0 L625.2,123.1 Z M621.9,127.0 L624.3,128.0 L627.8,126.6 L624.2,125.7 Z M621.9,127.0 L623.8,130.1 L628.5,132.5 L625.3,128.3 Z M621.9,127.0 L620.7,129.9 L622.0,134.1 L623.1,129.8 Z M621.9,127.0 L619.4,128.0 L617.8,131.5 L621.1,129.6 Z M621.9,127.0 L618.3,127.0 L613.9,129.8 L619.1,129.3 Z M621.9,127.0 L619.8,124.8 L615.6,124.4 L618.9,127.1 Z M621.9,127.0 L621.1,124.0 L617.5,121.4 L619.2,125.5 Z M621.9,127.0 L623.9,125.6 L624.2,122.2 L621.7,124.6 Z M621.9,127.0 L625.3,126.4 L628.9,122.9 L624.1,124.3 Z" fill="#7c7c7c" stroke="#666" stroke-width=".3"/>
<path d="M621.9,127.0 L621.7,132.4 L626.6,140.6 L625.3,131.1 Z M621.9,127.0 L617.5,128.2 L611.6,133.8 L619.1,130.6 Z M621.9,127.0 L617.3,125.6 L609.2,127.8 L617.6,129.0 Z M621.9,127.0 L626.2,125.7 L631.5,119.7 L624.3,123.2 Z" fill="#2a2a2a" stroke="#222" stroke-width=".3"/>
<circle cx="621.4" cy="127" r="1.7" fill="#222"/>
<path d="M558.4,308.6 L561.9,312.1 L570.4,314.1 L563.3,309.0 Z M558.4,308.6 L559.3,313.0 L565.0,318.3 L562.2,311.0 Z M558.4,308.6 L557.3,313.1 L559.8,320.9 L560.4,312.7 Z M558.4,308.6 L557.0,312.3 L559.0,318.8 L560.2,312.1 Z M558.4,308.6 L555.1,312.5 L553.3,321.5 L558.1,313.7 Z M558.4,308.6 L553.6,307.0 L545.0,309.2 L553.8,310.6 Z M558.4,308.6 L554.2,306.0 L545.4,305.4 L553.5,308.9 Z M558.4,308.6 L556.4,304.9 L549.7,302.2 L554.3,307.8 Z M558.4,308.6 L556.6,304.4 L549.9,299.6 L554.3,306.5 Z M558.4,308.6 L557.8,303.6 L552.9,296.1 L555.1,304.8 Z M558.4,308.6 L560.2,304.4 L558.8,296.6 L556.9,304.3 Z M558.4,308.6 L561.0,305.0 L562.2,297.0 L558.4,304.1 Z M558.4,308.6 L562.2,306.7 L564.9,299.9 L559.1,304.4 Z M558.4,308.6 L562.8,308.2 L568.2,302.7 L560.8,304.9 Z M558.4,308.6 L563.0,308.8 L570.0,304.6 L561.9,305.6 Z M558.4,308.6 L560.9,309.5 L564.2,307.9 L560.6,307.1 Z M558.4,308.6 L560.1,311.6 L564.7,313.9 L561.7,309.8 Z M558.4,308.6 L557.4,310.9 L558.9,314.0 L559.8,310.6 Z M558.4,308.6 L555.5,310.1 L553.4,314.3 L557.3,311.7 Z M558.4,308.6 L556.0,307.6 L552.6,309.2 L556.2,310.0 Z M558.4,308.6 L557.1,306.5 L553.7,306.0 L555.9,308.6 Z M558.4,308.6 L558.5,305.9 L555.9,303.1 L556.3,306.9 Z M558.4,308.6 L559.6,305.4 L558.5,300.6 L557.2,305.4 Z M558.4,308.6 L561.0,307.1 L562.5,303.1 L559.1,305.7 Z" fill="#7c7c7c" stroke="#666" stroke-width=".3"/>
<path d="M558.4,308.6 L563.1,310.5 L572.4,310.5 L563.5,308.0 Z M558.4,308.6 L560.7,312.7 L568.1,316.7 L562.9,310.2 Z M558.4,308.6 L555.0,310.5 L552.1,316.7 L557.3,312.3 Z M558.4,308.6 L553.2,309.4 L545.8,315.4 L554.8,312.5 Z" fill="#2a2a2a" stroke="#222" stroke-width=".3"/>
<circle cx="557.9" cy="308.6" r="1.7" fill="#222"/>
<path d="M557.7,332.7 L562.1,333.9 L570.1,331.7 L561.9,330.9 Z M557.7,332.7 L560.7,335.1 L567.4,336.4 L561.5,332.9 Z M557.7,332.7 L559.8,336.5 L566.9,338.9 L562.0,333.2 Z M557.7,332.7 L557.1,337.7 L560.5,346.2 L560.3,337.1 Z M557.7,332.7 L555.4,336.1 L556.3,343.0 L559.0,336.6 Z M557.7,332.7 L554.7,335.4 L554.1,342.3 L558.2,336.7 Z M557.7,332.7 L553.0,334.7 L547.7,342.2 L555.4,337.3 Z M557.7,332.7 L552.8,333.7 L546.1,339.5 L554.4,336.4 Z M557.7,332.7 L554.2,329.8 L546.3,329.1 L553.2,333.1 Z M557.7,332.7 L554.8,329.4 L547.4,327.1 L553.4,332.0 Z M557.7,332.7 L555.8,327.9 L548.5,322.2 L553.2,330.2 Z M557.7,332.7 L559.7,327.8 L558.1,318.6 L555.9,327.7 Z M557.7,332.7 L560.7,329.6 L561.1,322.2 L557.1,328.5 Z M557.7,332.7 L561.1,330.5 L562.8,323.6 L557.9,328.6 Z M557.7,332.7 L559.8,334.0 L563.0,333.1 L559.9,331.6 Z M557.7,332.7 L558.5,335.4 L561.9,337.3 L560.3,333.7 Z M557.7,332.7 L556.3,336.0 L557.2,341.1 L558.7,336.1 Z M557.7,332.7 L555.0,335.0 L553.5,340.0 L557.0,336.2 Z M557.7,332.7 L555.2,332.6 L552.8,335.1 L556.3,334.7 Z M557.7,332.7 L556.2,330.8 L552.8,330.6 L555.3,333.0 Z M557.7,332.7 L556.9,329.9 L553.5,327.7 L555.1,331.5 Z M557.7,332.7 L559.4,330.8 L559.1,327.2 L557.1,330.2 Z M557.7,332.7 L560.5,330.7 L562.2,326.1 L558.5,329.4 Z" fill="#7c7c7c" stroke="#666" stroke-width=".3"/>
<path d="M557.7,332.7 L558.1,337.3 L563.3,343.5 L561.2,335.7 Z M557.7,332.7 L553.9,331.6 L547.2,333.2 L554.1,334.2 Z M557.7,332.7 L557.9,327.4 L553.4,319.1 L554.5,328.5 Z M557.7,332.7 L562.1,330.4 L567.2,323.2 L560.0,328.3 Z M557.7,332.7 L562.7,332.7 L570.0,327.6 L561.3,329.2 Z" fill="#2a2a2a" stroke="#222" stroke-width=".3"/>
<circle cx="557.2" cy="332.7" r="1.7" fill="#222"/>
<text class="lb" x="512.5" y="210.8" font-size="8.0" textLength="25.0" lengthAdjust="spacingAndGlyphs">COCINA</text>
<text class="lb" x="569.0" y="210.8" font-size="8.0" textLength="35.0" lengthAdjust="spacingAndGlyphs">RECIBIDOR</text>
<text class="lb" x="626.0" y="184.0" font-size="8.0" textLength="32.0" lengthAdjust="spacingAndGlyphs">ESCALERA</text>
<text class="lb" x="450.5" y="260.0" font-size="8.0" textLength="62.5" lengthAdjust="spacingAndGlyphs">SALON - COMEDOR</text>
<text class="lb" x="626.0" y="264.0" font-size="8.0" textLength="26.5" lengthAdjust="spacingAndGlyphs">PASILLO</text>
<text class="lb" x="731.0" y="202.5" font-size="8.0" textLength="25.0" lengthAdjust="spacingAndGlyphs">BAÑO 2</text>
<text class="lb" x="735.0" y="260.0" font-size="8.0" textLength="27.5" lengthAdjust="spacingAndGlyphs">GALERIA</text>
<text class="lb" x="626.0" y="306.0" font-size="8.0" textLength="16.5" lengthAdjust="spacingAndGlyphs">ASEO</text>
<text class="lb" x="684.5" y="86.0" font-size="8.0" textLength="49.5" lengthAdjust="spacingAndGlyphs">DORMITORIO 4</text>
<text class="lb" x="719.0" y="340.0" font-size="8.0" textLength="49.0" lengthAdjust="spacingAndGlyphs">DORMITORIO 3</text>
<text class="lb" x="610.5" y="408.0" font-size="8.0" textLength="49.5" lengthAdjust="spacingAndGlyphs">DORMITORIO 2</text>
<text class="lb" x="381.0" y="360.5" font-size="8.0" textLength="29.5" lengthAdjust="spacingAndGlyphs">PERGOLA</text>
</g>
</svg>
</body></html>
